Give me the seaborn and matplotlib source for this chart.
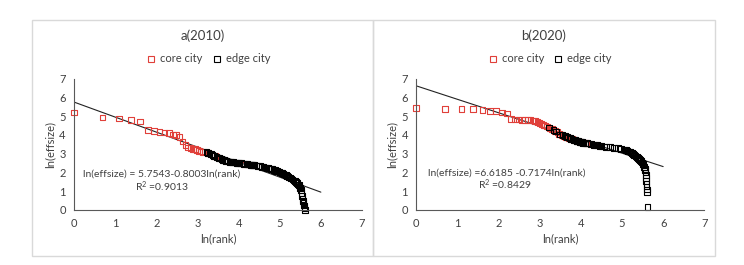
### Rank-size plots: ln(effsize) vs ln(rank), 2010 and 2020 ###

# Imports
import numpy as np
import pandas as pd
import matplotlib
matplotlib.use("Agg")
import matplotlib.pyplot as plt
import seaborn as sns
from matplotlib.patches import Rectangle
from matplotlib.lines import Line2D


# Data (rank of city, ln(effsize))

# a(2010)
rank_core_a = [1, 2, 3, 4, 5, 6, 7, 8, 9, 10, 11, 12, 13, 14, 15, 16, 17, 18,
               19, 20, 21, 22, 23, 26, 31, 64]
lny_core_a = [5.2, 4.93, 4.88, 4.8, 4.72, 4.25, 4.22, 4.16, 4.13, 4.1, 4.03,
              3.98, 3.9, 3.65, 3.45, 3.33, 3.3, 3.27, 3.24, 3.2, 3.16, 3.12,
              3.1, 3.05, 2.86, 2.43]
rank_edge_a = [25, 26, 27, 28, 29, 30, 32, 33, 34, 35, 36, 37, 38, 39, 40, 42,
               44, 46, 48, 50, 52, 54, 56, 58, 60, 62, 66, 68, 70, 72, 74, 76,
               78, 80, 84, 88, 92, 96, 100, 104, 108, 112, 116, 120, 124, 128,
               132, 136, 140, 144, 148, 152, 156, 160, 166, 172, 178, 184, 190,
               196, 202, 208, 214, 220, 226, 232, 236, 240, 244, 248, 252, 256,
               259, 262, 265, 268, 271, 276]
lny_edge_a = [3.08, 3.05, 3.01, 2.97, 2.93, 2.89, 2.83, 2.8, 2.77, 2.74, 2.71,
              2.68, 2.66, 2.64, 2.62, 2.59, 2.57, 2.55, 2.54, 2.53, 2.52, 2.51,
              2.5, 2.49, 2.48, 2.47, 2.46, 2.45, 2.43, 2.42, 2.41, 2.4, 2.39,
              2.38, 2.37, 2.35, 2.33, 2.31, 2.29, 2.27, 2.25, 2.23, 2.21, 2.19,
              2.17, 2.15, 2.12, 2.09, 2.07, 2.05, 2.03, 2.0, 1.97, 1.94, 1.89,
              1.85, 1.81, 1.77, 1.73, 1.68, 1.63, 1.58, 1.53, 1.49, 1.43, 1.36,
              1.32, 1.26, 1.16, 1.06, 0.92, 0.75, 0.6, 0.48, 0.36, 0.24, 0.12,
              0.0]
intercept_a, slope_a = 5.7543, -0.8003
eq_a = "ln(effsize) = 5.7543-0.8003ln(rank)"
r2_a = "R$^2$ =0.9013"

# b(2020)
rank_core_b = [1, 2, 3, 4, 5, 6, 7, 8, 9, 10, 11, 12, 13, 14, 15, 16, 17, 18,
               19, 20, 21, 22, 23, 24, 26, 27, 29, 31, 32, 34, 36, 38, 41, 44,
               48, 52, 57, 62]
lny_core_b = [5.42, 5.38, 5.38, 5.38, 5.33, 5.28, 5.27, 5.2, 5.15, 4.85, 4.83,
              4.82, 4.81, 4.8, 4.79, 4.78, 4.77, 4.76, 4.7, 4.62, 4.58, 4.55,
              4.5, 4.45, 4.35, 4.3, 4.22, 4.15, 4.05, 4.0, 3.96, 3.9, 3.85,
              3.78, 3.7, 3.65, 3.6, 3.56]
rank_edge_b = [25, 28, 30, 33, 35, 37, 39, 40, 42, 43, 45, 46, 47, 49, 50, 51,
               53, 54, 55, 56, 58, 60, 63, 66, 70, 74, 78, 82, 86, 90, 95, 100,
               110, 122, 134, 146, 158, 164, 170, 176, 182, 188, 194, 200, 206,
               212, 218, 224, 230, 236, 242, 247, 251, 255, 258, 261, 263, 265,
               267, 268, 269, 270, 271, 272, 276]
lny_edge_b = [4.4, 4.25, 4.18, 4.02, 3.98, 3.93, 3.88, 3.86, 3.82, 3.8, 3.76,
              3.74, 3.72, 3.69, 3.67, 3.66, 3.64, 3.63, 3.62, 3.61, 3.59, 3.58,
              3.56, 3.54, 3.5, 3.48, 3.46, 3.45, 3.43, 3.41, 3.39, 3.37, 3.35,
              3.32, 3.29, 3.26, 3.22, 3.19, 3.15, 3.12, 3.08, 3.03, 2.98, 2.93,
              2.88, 2.83, 2.77, 2.72, 2.66, 2.6, 2.53, 2.45, 2.37, 2.28, 2.2,
              2.12, 2.0, 1.85, 1.7, 1.55, 1.4, 1.25, 1.1, 0.95, 0.15]
intercept_b, slope_b = 6.6185, -0.7174
eq_b = "ln(effsize) =6.6185 -0.7174ln(rank)"
r2_b = "R$^2$ =0.8429"

titles = ["a(2010)", "b(2020)"]
series_names = ["core city", "edge city"]
line_x = [0, 6]          # trend line drawn over ln(rank) 0..6
ticks = [0, 1, 2, 3, 4, 5, 6, 7]


# Style
sns.set_style("white")
plt.rcParams["font.family"] = ["Lato", "DejaVu Sans"]
plt.rcParams["mathtext.default"] = "regular"

red = "#e0403a"
txt = "#404040"
axc = "#595959"
colors = [red, "black"]

fig = plt.figure(figsize = (7.44, 2.65), dpi = 100)

# Chart-area borders (px: x 32-373-715, y 20-256)
W, H = 744, 265
for x0, x1 in [(32, 373), (373, 715)]:
    fig.add_artist(Rectangle((x0 / W, 1 - 256 / H), (x1 - x0) / W, 236 / H,
                             transform = fig.transFigure, fill = False,
                             edgecolor = "#d9d9d9", linewidth = 1))

panels = [
    (rank_core_a, lny_core_a, rank_edge_a, lny_edge_a, intercept_a, slope_a,
     eq_a, r2_a, 74, (2.12, 1.92), (2.13, 1.24)),
    (rank_core_b, lny_core_b, rank_edge_b, lny_edge_b, intercept_b, slope_b,
     eq_b, r2_b, 416.3, (2.2, 1.95), (2.16, 1.33)),
]

for i, (rc, yc, re_, ye, b0, b1, eq, r2, left_px, eq_pos, r2_pos) in enumerate(panels):
    ax = fig.add_axes([left_px / W, 1 - 210 / H, 288 / W, 131.3 / H])

    core = pd.DataFrame({"lnrank": np.log(rc), "lny": yc})
    edge = pd.DataFrame({"lnrank": np.log(re_), "lny": ye})
    trend = pd.DataFrame({"lnrank": line_x})
    trend["lny"] = b0 + b1 * trend["lnrank"]

    sns.lineplot(data = trend, x = "lnrank", y = "lny", color = "#222222",
                 linewidth = 0.8, ax = ax, zorder = 1, legend = False)
    for df, c in zip([core, edge], colors):
        sns.scatterplot(data = df, x = "lnrank", y = "lny", marker = "s", s = 17,
                        facecolors = "none", edgecolor = c, linewidth = 0.8,
                        ax = ax, zorder = 2, clip_on = False, legend = False)

    ax.set_xlim(0, 7)
    ax.set_ylim(0, 7)
    ax.set_xticks(ticks)
    ax.set_yticks(ticks)
    for s in ["top", "right"]:
        ax.spines[s].set_visible(False)
    for s in ["left", "bottom"]:
        ax.spines[s].set_color(axc)
        ax.spines[s].set_linewidth(0.8)
    ax.tick_params(direction = "in", length = 3, width = 0.8, color = axc,
                   labelsize = 8, labelcolor = txt, pad = 6)
    ax.set_xlabel("ln(rank)", fontsize = 8, color = txt, labelpad = 3)
    ax.set_ylabel("ln(effsize)", fontsize = 8, color = txt, labelpad = 3)

    ax.text(eq_pos[0], eq_pos[1], eq, fontsize = 7.5, color = txt,
            ha = "center", va = "center")
    ax.text(r2_pos[0], r2_pos[1], r2, fontsize = 7.5, color = txt,
            ha = "center", va = "center")

    # Title and legend above the plot area
    cx = (32 + 373) / 2 / W if i == 0 else (373 + 715) / 2 / W
    fig.text(cx, 1 - 36 / H, titles[i], fontsize = 9.5, color = txt,
             ha = "center", va = "center")
    handles = [Line2D([], [], linestyle = "none", marker = "s", markersize = 4.5,
                      markerfacecolor = "none", markeredgecolor = c,
                      markeredgewidth = 0.8) for c in colors]
    fig.legend(handles, series_names, loc = "center",
               bbox_to_anchor = (cx + 0.008, 1 - 59 / H), ncol = 2,
               frameon = False, fontsize = 8, labelcolor = txt,
               handlelength = 0.8, handletextpad = 0.4, columnspacing = 0.9,
               borderaxespad = 0, borderpad = 0)

plt.savefig("out.png", dpi = 100)
